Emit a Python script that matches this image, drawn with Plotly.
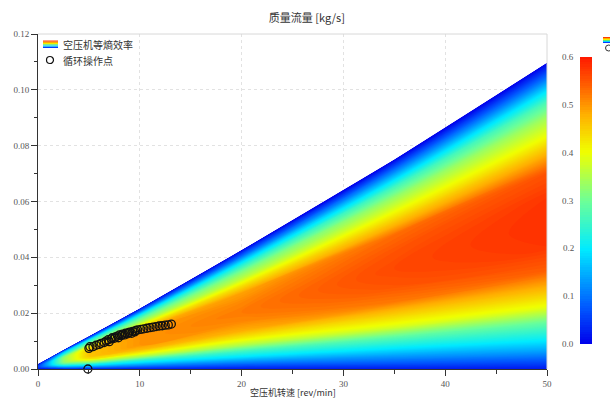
import plotly.graph_objects as go

# ---------------- data ----------------
speed_stations = [0, 1, 2.5, 5, 10, 20, 35, 50]                      # rev/min
flow_limit = [0.0018, 0.0038, 0.0068, 0.0117, 0.0217, 0.0426, 0.075, 0.1097]  # upper edge of map, kg/s
flow_fraction = [0, 0.03, 0.06, 0.1, 0.15, 0.2, 0.26, 0.32, 0.4, 0.48,
                 0.56, 0.64, 0.7, 0.76, 0.82, 0.87, 0.91, 0.95, 0.98, 1.0]
# isentropic efficiency: rows = flow_fraction, cols = speed_stations
efficiency = [
    [0.00, 0.01, 0.01, 0.02, 0.02, 0.02, 0.02, 0.02],
    [0.01, 0.02, 0.05, 0.06, 0.07, 0.07, 0.08, 0.08],
    [0.01, 0.04, 0.08, 0.11, 0.12, 0.12, 0.13, 0.14],
    [0.02, 0.05, 0.12, 0.17, 0.18, 0.19, 0.20, 0.21],
    [0.03, 0.08, 0.17, 0.23, 0.25, 0.26, 0.28, 0.29],
    [0.03, 0.10, 0.22, 0.31, 0.34, 0.35, 0.38, 0.39],
    [0.04, 0.12, 0.27, 0.37, 0.41, 0.42, 0.45, 0.47],
    [0.05, 0.14, 0.31, 0.43, 0.47, 0.48, 0.52, 0.54],
    [0.05, 0.15, 0.33, 0.46, 0.50, 0.51, 0.55, 0.575],
    [0.05, 0.15, 0.33, 0.46, 0.50, 0.52, 0.56, 0.58],
    [0.05, 0.15, 0.33, 0.46, 0.50, 0.51, 0.55, 0.575],
    [0.05, 0.14, 0.31, 0.44, 0.48, 0.49, 0.53, 0.55],
    [0.04, 0.12, 0.27, 0.38, 0.42, 0.43, 0.46, 0.48],
    [0.03, 0.10, 0.23, 0.32, 0.35, 0.36, 0.39, 0.40],
    [0.03, 0.09, 0.19, 0.27, 0.30, 0.31, 0.33, 0.34],
    [0.02, 0.07, 0.16, 0.22, 0.24, 0.24, 0.26, 0.27],
    [0.02, 0.05, 0.11, 0.15, 0.17, 0.17, 0.18, 0.19],
    [0.01, 0.03, 0.06, 0.08, 0.09, 0.09, 0.10, 0.10],
    [0.00, 0.01, 0.02, 0.03, 0.04, 0.04, 0.04, 0.04],
    [0.00, 0.00, 0.00, 0.00, 0.00, 0.00, 0.00, 0.00],
]
op_speed = [4.9, 5.0, 5.1, 5.4, 5.7, 6.0, 6.2, 6.5, 6.7, 6.9, 7.0, 7.2, 7.3, 7.5, 7.6,
            7.8, 7.9, 8.0, 8.2, 8.3, 8.5, 8.6, 8.8, 8.9, 9.0, 9.2, 9.3, 9.5, 9.6, 9.8,
            10.1, 10.4, 10.7, 11.0, 11.3, 11.6, 11.9, 12.2, 12.5, 12.8, 13.1]
op_flow = [0.0, 0.0074, 0.0080, 0.0080, 0.0085, 0.0088, 0.0092, 0.0095, 0.0100, 0.0105,
           0.0098, 0.0108, 0.0112, 0.0110, 0.0115, 0.0118, 0.0112, 0.0122, 0.0120, 0.0125,
           0.0122, 0.0128, 0.0126, 0.0130, 0.0132, 0.0128, 0.0135, 0.0133, 0.0138, 0.0140,
           0.0142, 0.0144, 0.0146, 0.0148, 0.0150, 0.0152, 0.0154, 0.0155, 0.0157, 0.0158, 0.0161]
cbar_ticks = [0.0, 0.1, 0.2, 0.3, 0.4, 0.5, 0.6]

# ---------------- style ----------------
W, H = 610, 400
ML, MR, MT, MB = 38, 63, 34, 31
PW, PH = W - ML - MR, H - MT - MB
SERIF = "Liberation Serif, Noto Sans CJK SC, serif"
CJK = "Noto Sans CJK SC, Liberation Serif, sans-serif"

colorscale = [
    [0.0, "rgb(0,0,235)"], [0.13, "rgb(0,90,255)"], [0.33, "rgb(0,235,255)"],
    [0.5, "rgb(110,255,150)"], [0.667, "rgb(240,255,0)"], [0.8, "rgb(255,175,0)"],
    [0.9, "rgb(255,95,0)"], [1.0, "rgb(255,25,0)"],
]


def px(xp):
    return (xp - ML) / PW


def py(yp):
    return (H - MB - yp) / PH


fig = go.Figure()

axis_off = dict(showgrid=False, showline=False, showticklabels="none",
                startline=False, endline=False, minorgridcount=0, smoothing=0)
grid_x = [[s for s in speed_stations] for _ in flow_fraction]
grid_y = [[f * m for m in flow_limit] for f in flow_fraction]

fig.add_trace(go.Carpet(a=speed_stations, b=flow_fraction, x=grid_x, y=grid_y,
                        carpet="map", aaxis=axis_off, baxis=axis_off))

cb_len = (344 - 57) / PH
cb_y0 = py(344)
fig.add_trace(go.Contourcarpet(
    a=speed_stations, b=flow_fraction, z=efficiency, carpet="map",
    autocontour=False,
    contours=dict(start=0, end=0.6, size=0.005, coloring="fill", showlines=False),
    line=dict(width=0),
    colorscale=colorscale, zmin=0, zmax=0.6,
    colorbar=dict(x=px(580), xanchor="left", xpad=0, ypad=0, thickness=12,
                  len=cb_len, y=cb_y0, yanchor="bottom", lenmode="fraction",
                  showticklabels=False, ticks="", outlinewidth=0),
    showlegend=False,
))

fig.add_trace(go.Scatter(
    x=op_speed, y=op_flow, mode="markers", cliponaxis=False,
    marker=dict(symbol="circle-open", size=8, color="#111", line=dict(width=1.3)),
    showlegend=False, hoverinfo="skip",
))

shapes = []
annotations = []

# light frame on top/right
shapes.append(dict(type="line", xref="paper", yref="paper", x0=0, x1=1, y0=1, y1=1,
                   line=dict(color="#d8d8d8", width=1)))
shapes.append(dict(type="line", xref="paper", yref="paper", x0=1, x1=1, y0=0, y1=1,
                   line=dict(color="#d8d8d8", width=1)))

# manual legend
stripe_cols = ["rgb(255,60,0)", "rgb(255,170,0)", "rgb(240,240,0)", "rgb(90,230,120)",
               "rgb(0,210,255)", "rgb(0,60,255)"]


def swatch(x0p, x1p, y0p, y1p):
    n = len(stripe_cols)
    h = (y1p - y0p) / n
    for i, c in enumerate(stripe_cols):
        shapes.append(dict(type="rect", xref="paper", yref="paper",
                           x0=px(x0p), x1=px(x1p), y0=py(y0p + i * h), y1=py(y0p + (i + 1) * h),
                           line=dict(width=0), fillcolor=c, layer="above"))


swatch(43, 58, 40.5, 48)
shapes.append(dict(type="circle", xref="paper", yref="paper",
                   x0=px(46.5), x1=px(53.5), y0=py(63.5), y1=py(56.5),
                   line=dict(color="#111", width=1.2)))
annotations.append(dict(text="空压机等熵效率", xref="paper", yref="paper", x=px(61), y=py(44.5),
                        xanchor="left", yanchor="middle", showarrow=False,
                        font=dict(family=CJK, size=10, color="#333")))
annotations.append(dict(text="循环操作点", xref="paper", yref="paper", x=px(61), y=py(60),
                        xanchor="left", yanchor="middle", showarrow=False,
                        font=dict(family=CJK, size=10, color="#333")))

# clipped legend copy at the far right edge
swatch(603, 612, 37, 43)
shapes.append(dict(type="circle", xref="paper", yref="paper",
                   x0=px(605.5), x1=px(612), y0=py(51), y1=py(45),
                   line=dict(color="#333", width=1)))

# colorbar tick labels (left of the bar)
for v in cbar_ticks:
    annotations.append(dict(text=f"{v:.1f}", xref="paper", yref="paper",
                            x=px(576), y=cb_y0 + v / 0.6 * cb_len,
                            xanchor="right", yanchor="middle", showarrow=False,
                            font=dict(family=SERIF, size=9, color="#555")))

# x-axis title
annotations.append(dict(text="空压机转速 [rev/min]", xref="paper", yref="paper",
                        x=0.5, y=py(392), xanchor="center", yanchor="middle", showarrow=False,
                        font=dict(family=CJK, size=9, color="#333")))

axis_common = dict(showline=True, linecolor="#333", linewidth=1, ticks="outside",
                   ticklen=6, tickcolor="#333", tickwidth=1,
                   tickfont=dict(family=SERIF, size=9, color="#555"),
                   showgrid=True, gridcolor="#e2e2e2", griddash="dot", gridwidth=1,
                   zeroline=False, mirror=False, automargin=False)

fig.update_layout(
    width=W, height=H, margin=dict(l=ML, r=MR, t=MT, b=MB, autoexpand=False),
    paper_bgcolor="white", plot_bgcolor="white",
    title=dict(text="质量流量 [kg/s]", x=0.503, xref="container", y=1 - 18 / H,
               yanchor="middle", xanchor="center", automargin=False,
               font=dict(family=CJK, size=11, color="#333")),
    xaxis=dict(range=[0, 50], dtick=10, tick0=0,
               minor=dict(dtick=5, ticks="outside", ticklen=4, tickcolor="#333", showgrid=False),
               **axis_common),
    yaxis=dict(range=[0, 0.12], dtick=0.02, tick0=0, tickformat=".2f",
               minor=dict(dtick=0.01, ticks="outside", ticklen=3, tickcolor="#333", showgrid=False),
               **axis_common),
    shapes=shapes, annotations=annotations, showlegend=False,
)

fig.write_html("out.html")
